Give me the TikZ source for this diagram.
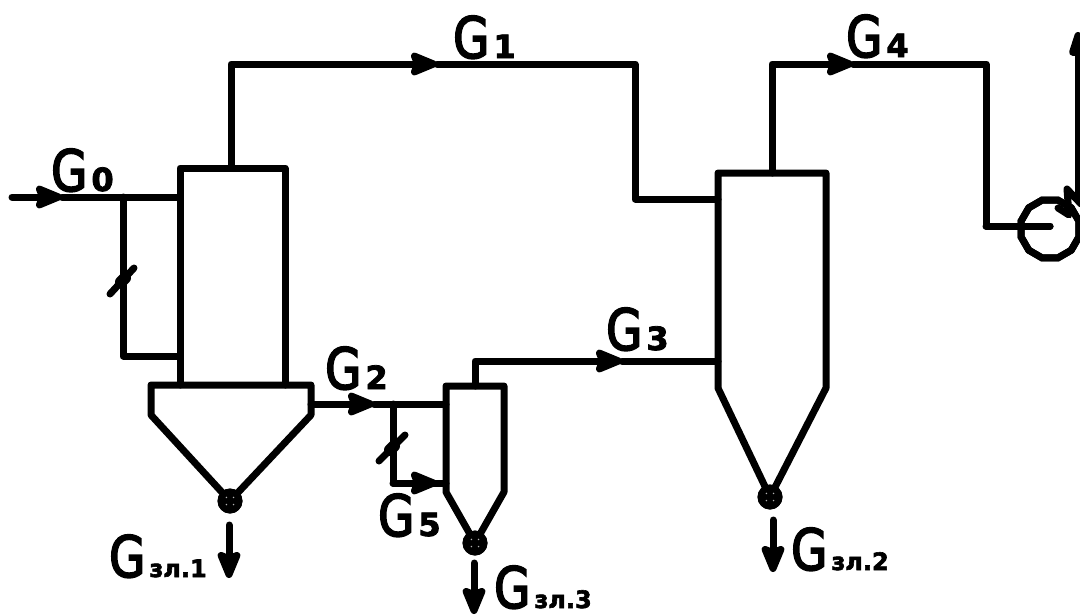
\documentclass[tikz,border=0pt]{standalone}
\usepackage{fontspec}
\usetikzlibrary{arrows.meta,shapes.geometric}
\newfontfamily\gfont[FakeBold=3,FakeStretch=0.82]{DejaVu Sans}
\newfontfamily\subfont[FakeBold=2.5]{DejaVu Sans Bold}
\newcommand{\Gsub}[1]{{\fontsize{57}{57}\gfont G}\kern4pt{\fontsize{32}{32}\subfont #1}}
\newcommand{\Gzl}[1]{{\fontsize{57}{57}\gfont G}\kern4pt{\fontsize{24}{24}\subfont зл.#1}}
\tikzset{
  pipe/.style={line width=7pt,line join=round,line cap=round,draw=black},
  flow/.style={pipe,-{Stealth[length=34pt,width=27pt,inset=5pt,round]}},
  blob/.style={line width=12pt,line cap=round,draw=black},
  valve/.style={circle,fill=black,draw=none,minimum size=25pt,inner sep=0pt,
    path picture={\foreach \a in {45,135,225,315}\fill[gray!60] (path picture bounding box.center)+(\a:5pt) circle (0.8pt);}},
  cooler/.style={regular polygon,regular polygon sides=12,draw=black,line width=7pt,minimum size=60pt,inner sep=0pt},
  glabel/.style={anchor=base west,inner sep=0pt,text=black}
}
\begin{document}
\begin{tikzpicture}[x=1pt,y=-1pt]
\clip (0,0) rectangle (1080,614);
\fill[white] (0,0) rectangle (1080,614);
% key points
\coordinate (in) at (12,197);
\coordinate (intip) at (62,197);
\coordinate (b1tl) at (180,168);
\coordinate (b1tr) at (285,168);
\coordinate (b1bl) at (180,385);
\coordinate (b1br) at (285,385);
\coordinate (b1in) at (180,197);
\coordinate (b1by) at (180,356);
\coordinate (j0) at (123,197);
\coordinate (j0b) at (123,356);
\coordinate (s0a) at (110,294);
\coordinate (s0b) at (134,268);
\coordinate (s0c) at (121,282);
\coordinate (s0d) at (125,278);
\coordinate (h1a) at (151,385);
\coordinate (h1b) at (311,385);
\coordinate (h1c) at (311,415);
\coordinate (h1d) at (151,415);
\node[valve] (v1) at (230,501) {};
\coordinate (o1) at (231,168);
\coordinate (c1) at (231,64);
\coordinate (t1) at (437,64);
\coordinate (c2) at (635,64);
\coordinate (c3) at (635,199);
\coordinate (b2in) at (718,199);
\coordinate (b2tl) at (718,173);
\coordinate (b2tr) at (826,173);
\coordinate (b2br) at (826,388);
\coordinate (b2bl) at (718,388);
\node[valve] (v2) at (770,497) {};
\coordinate (o2) at (772,173);
\coordinate (c4) at (772,64);
\coordinate (t4) at (853,64);
\coordinate (c5) at (986,64);
\coordinate (c6) at (986,226);
\node[cooler] (cool) at (1050,229) {};
\coordinate (c7) at (1050,226);
\coordinate (z1) at (1058,208);
\coordinate (z2) at (1069,215);
\coordinate (z3) at (1067,189);
\coordinate (z4) at (1081,204);
\coordinate (up0) at (1078,200);
\coordinate (up1) at (1078,32);
% small cyclone
\coordinate (b3tl) at (446,386);
\coordinate (b3tr) at (504,386);
\coordinate (b3br) at (504,492);
\coordinate (b3bl) at (446,492);
\node[valve] (v3) at (475,543) {};
\coordinate (o3) at (475,386);
\coordinate (c8) at (475,361);
\coordinate (t3) at (622,361);
\coordinate (b2g3) at (718,361);
\coordinate (g2s) at (311,404);
\coordinate (t2) at (374,404);
\coordinate (b3in) at (446,404);
\coordinate (j2) at (393,404);
\coordinate (j2b) at (393,483);
\coordinate (t5) at (437,483);
\coordinate (b3by) at (446,483);
\coordinate (s2a) at (379,461);
\coordinate (s2b) at (405,435);
\coordinate (s2c) at (390,450);
\coordinate (s2d) at (394,446);
% apparatus 1
\draw[pipe] (b1bl) -- (b1tl) -- (b1tr) -- (b1br);
\draw[pipe] (h1a) -- (h1b) -- (h1c) -- (v1.center) -- (h1d) -- cycle;
% apparatus 2
\draw[pipe] (v2.center) -- (b2bl) -- (b2tl) -- (b2tr) -- (b2br) -- cycle;
% apparatus 3
\draw[pipe] (v3.center) -- (b3bl) -- (b3tl) -- (b3tr) -- (b3br) -- cycle;
% valves redrawn over the cones
\node[valve] at (v1) {};
\node[valve] at (v2) {};
\node[valve] at (v3) {};
% inlet and bypass
\draw[flow] (in) -- (intip);
\draw[pipe] (intip) -- (b1in);
\draw[pipe] (j0) -- (j0b) -- (b1by);
\draw[pipe] (s0a) -- (s0b);
\draw[blob] (s0c) -- (s0d);
% G1
\draw[flow] (o1) -- (c1) -- (t1);
\draw[pipe] (t1) -- (c2) -- (c3) -- (b2in);
% G4
\draw[flow] (o2) -- (c4) -- (t4);
\draw[pipe] (t4) -- (c5) -- (c6) -- (c7);
\draw[pipe] (z1) -- (z2) -- (z3) -- (z4);
\draw[pipe,-{Triangle[length=34pt,width=18pt,round]}] (up0) -- (up1);
% G2, G5, G3
\draw[flow] (g2s) -- (t2);
\draw[pipe] (t2) -- (b3in);
\draw[pipe] (j2) -- (j2b) -- (b3by);
\draw[flow] (j2b) -- (t5);
\draw[pipe] (s2a) -- (s2b);
\draw[blob] (s2c) -- (s2d);
\draw[flow] (o3) -- (c8) -- (t3);
\draw[pipe] (t3) -- (b2g3);
% discharge arrows
\coordinate (d1a) at (229,525); \coordinate (d1b) at (229,578);
\coordinate (d2a) at (773,520); \coordinate (d2b) at (773,572);
\coordinate (d3a) at (474,563); \coordinate (d3b) at (474,614);
\draw[flow] (d1a) -- (d1b);
\draw[flow] (d2a) -- (d2b);
\draw[flow] (d3a) -- (d3b);
\node[cooler] at (cool) {};
\draw[pipe] (c6) -- (c7);
% labels
\node[glabel] (g0) at (51,191) {\Gsub{0}};
\node[glabel] (g1) at (453,58) {\Gsub{1}};
\node[glabel] (g4) at (846,57) {\Gsub{4}};
\node[glabel] (g2) at (325,389) {\Gsub{2}};
\node[glabel] (g3) at (606,350) {\Gsub{3}};
\node[glabel] (g5) at (378,536) {\Gsub{5}};
\node[glabel] (gz1) at (109,577) {\Gzl{1}};
\node[glabel] (gz2) at (791,570) {\Gzl{2}};
\node[glabel] (gz3) at (494,608) {\Gzl{3}};
\end{tikzpicture}
\end{document}
